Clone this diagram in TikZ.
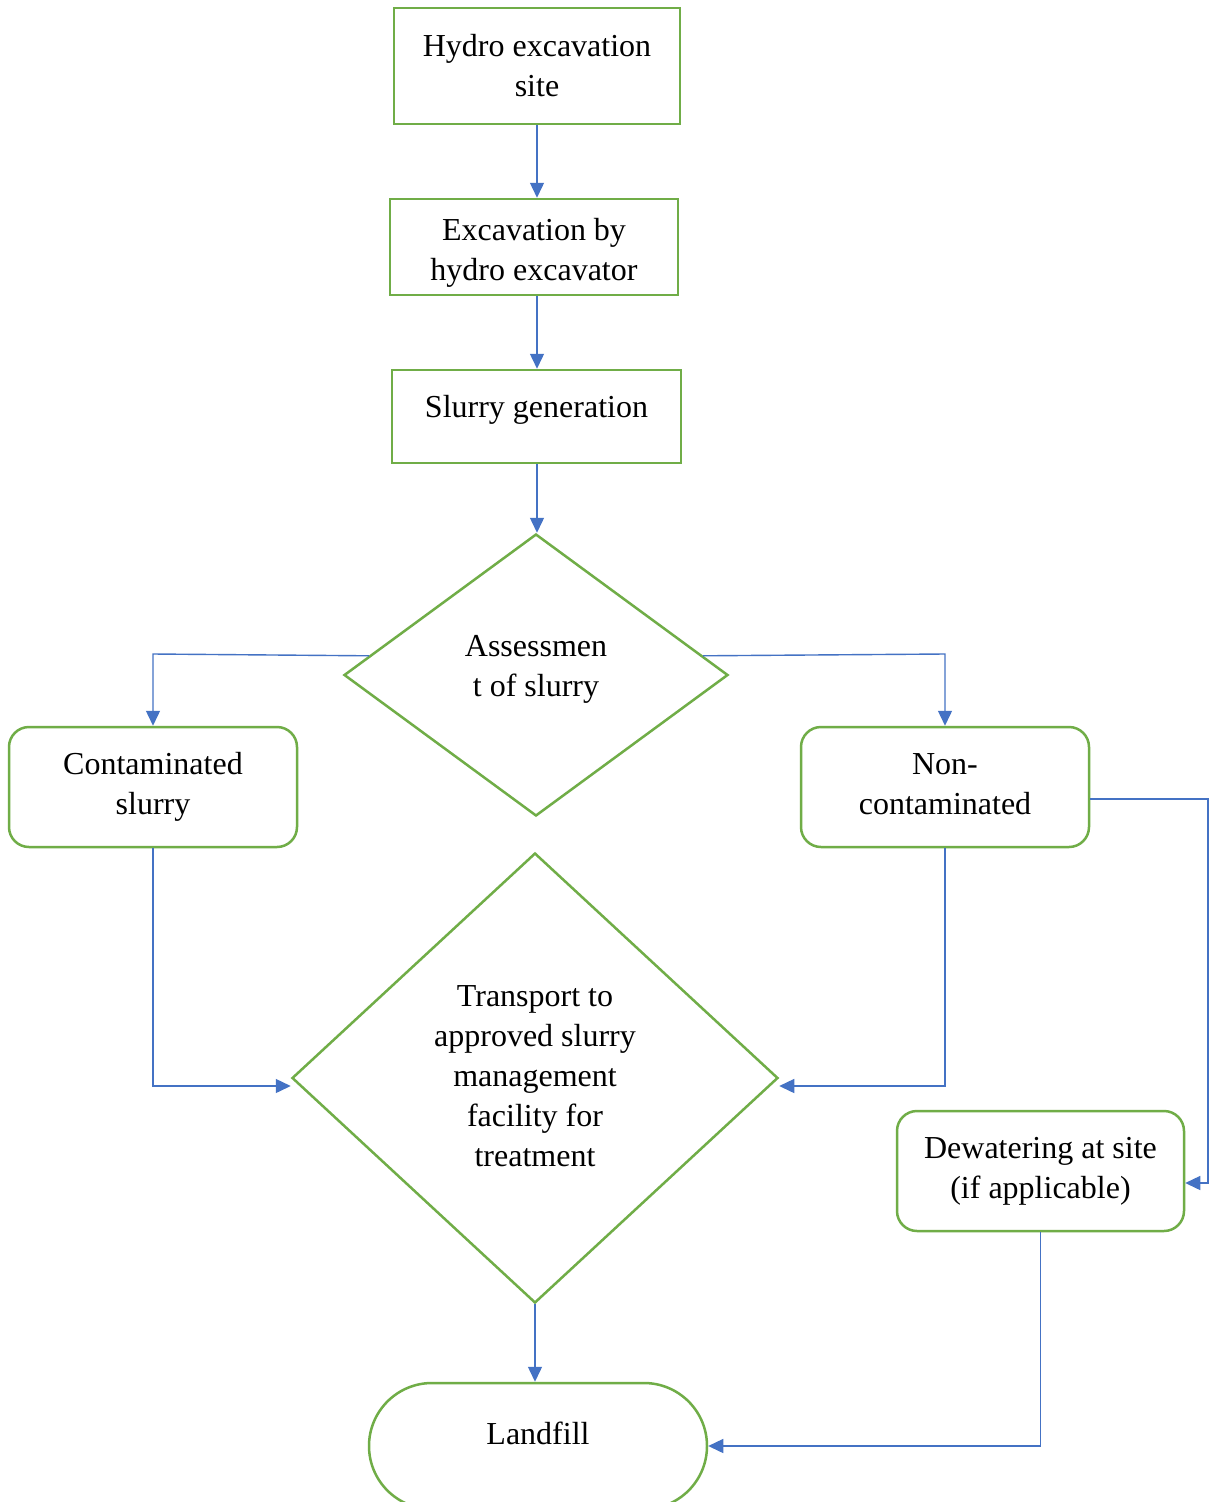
\documentclass[tikz,border=0pt]{standalone}
\usepackage{fontspec}
\setmainfont{Liberation Serif}
\usetikzlibrary{shapes.geometric,arrows.meta,calc}
\definecolor{boxgreen}{HTML}{70AD47}
\definecolor{linkblue}{HTML}{4472C4}
\tikzset{
  box/.style={draw=boxgreen, line width=2.5pt, rectangle, inner sep=0pt, align=center,
    font=\fontsize{32}{40}\selectfont},
  rbox/.style={box, rounded corners=20pt},
  dia/.style={draw=boxgreen, line width=2.5pt, diamond, inner sep=0pt},
  txt/.style={align=center, inner sep=0pt, font=\fontsize{32}{40}\selectfont},
  conn/.style={draw=linkblue, line width=1.4pt, -{Triangle[length=15pt,width=14pt]}},
}
\begin{document}
\begin{tikzpicture}[x=1pt,y=-1pt]
\clip (0,0) rectangle (1209,1502);
\fill[white] (0,0) rectangle (1209,1502);

\node[box, minimum width=286pt, minimum height=116pt] (b1) at (537,66) {Hydro excavation\\site};
\node[box, minimum width=288pt, minimum height=96pt] (b2) at (534,247) {};
\node[txt] (t2) at (534,253) {Excavation by\\hydro excavator};
\node[box, minimum width=289pt, minimum height=93pt] (b3) at (536.5,416.5) {};
\node[txt] (t3) at (536.5,410) {Slurry generation};

\node[dia, minimum width=384pt, minimum height=282pt] (d1) at (536,675) {};
\node[txt] (t4) at (536,669) {Assessmen\\t of slurry};

\node[rbox, minimum width=288pt, minimum height=120pt] (c) at (153,787) {Contaminated\\slurry};
\node[rbox, minimum width=288pt, minimum height=120pt] (nc) at (945,787) {};
\node[txt] (tnc) at (945,784) {Non-\\contaminated};

\node[dia, minimum width=486pt, minimum height=450pt] (d2) at (535,1078) {};
\node[txt] (t5) at (535,1076) {Transport to\\approved slurry\\management\\facility for\\treatment};

\node[rbox, minimum width=287pt, minimum height=120pt] (dew) at (1040.5,1171) {Dewatering at site\\(if applicable)};

\node[box, rounded corners=63pt, minimum width=338pt, minimum height=126pt] (lf) at (538,1446) {};
\node[txt] (t6) at (538,1433) {Landfill};

% connectors
\draw[conn] (b1.south) -- (b1.south |- b2.north);
\draw[conn] (b2.south -| b1.south) -- (b1.south |- b3.north);
\draw[conn] (b3.south -| b1.south) -- (b1.south |- d1.north);

\coordinate (pl) at ($(d1.west)!0.135!(d1.north)$);
\coordinate (pr) at ($(d1.east)!0.135!(d1.north)$);
\draw[conn] (pl) -- (c.north |- 0,654) -- (c.north);
\draw[conn] (pr) -- (nc.north |- 0,654) -- (nc.north);

\coordinate (cl) at ($(d2.west)+(0,8)$);
\coordinate (cr) at ($(d2.east)+(0,8)$);
\draw[conn] (c.south) -- (c.south |- cl) -- (cl);
\draw[conn] (nc.south) -- (nc.south |- cr) -- (cr);

\coordinate (ncr) at ($(nc.east)+(0,12)$);
\coordinate (dwr) at ($(dew.east)+(0,12)$);
\draw[conn] (ncr) -- (1208,799) -- (1208,1183) -- (dwr);

\draw[conn] (d2.south) -- (d2.south |- lf.north);
\draw[conn] (dew.south) -- (dew.south |- lf.east) -- (lf.east);
\end{tikzpicture}
\end{document}
